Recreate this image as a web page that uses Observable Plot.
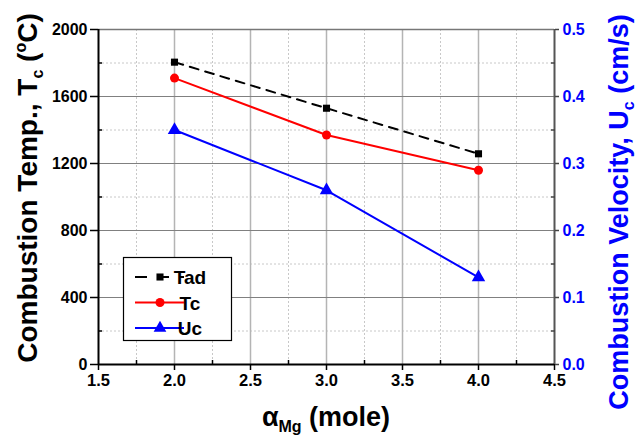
<!DOCTYPE html>
<html><head><meta charset="utf-8">
<script src="https://cdn.jsdelivr.net/npm/d3@7"></script>
<script src="https://cdn.jsdelivr.net/npm/@observablehq/plot@0.6"></script>
<style>
body{margin:0;background:#fff;}
svg{font-family:"Liberation Sans",Arial,sans-serif;}
svg text{font-weight:bold;}
</style></head>
<body><div id="chart"></div>
<script>
const alpha = [2.0, 3.0, 4.0];
const tad = [1805, 1530, 1258];
const tc = [1710, 1370, 1160];
const uc = [0.35, 0.26, 0.13];
const xTicks = [1.5, 2.0, 2.5, 3.0, 3.5, 4.0, 4.5];
const xMinor = [1.75, 2.25, 2.75, 3.25, 3.75, 4.25];
const yTicks = [0, 400, 800, 1200, 1600, 2000];
const yMinor = [200, 600, 1000, 1400, 1800];
const rTicks = [0.0, 0.1, 0.2, 0.3, 0.4, 0.5];
const rMinor = [0.05, 0.15, 0.25, 0.35, 0.45];
const K = 4000; // right axis factor: 0.5 -> 2000

const rows = (ys) => alpha.map((a, i) => ({x: a, y: ys[i]}));
const tadRows = rows(tad), tcRows = rows(tc), ucRows = rows(uc.map(v => v * K));
const BLUE = "#0000ff", RED = "#ff0000";

const plot = Plot.plot({
  width: 636, height: 438,
  marginLeft: 98, marginRight: 82, marginTop: 29, marginBottom: 74,
  style: {fontFamily: "Liberation Sans, Arial, sans-serif", fontSize: "16px", fontWeight: "bold", background: "#fff", color: "#000"},
  x: {domain: [1.5, 4.5]},
  y: {domain: [0, 2000]},
  marks: [
    Plot.ruleX(xMinor, {stroke: "#c8c8c8", strokeDasharray: "2,2", strokeWidth: 1}),
    Plot.ruleY(yMinor, {stroke: "#c8c8c8", strokeDasharray: "2,2", strokeWidth: 1}),
    Plot.ruleX(xTicks.slice(1, -1), {stroke: "#b4b4b4", strokeWidth: 1.5}),
    Plot.ruleY(yTicks.slice(1, -1), {stroke: "#808080", strokeWidth: 1}),
    Plot.ruleY([2000], {stroke: "#777", strokeWidth: 1.5}),
    Plot.ruleX([4.5], {stroke: "#555", strokeWidth: 2}),
    Plot.axisX(xTicks, {tickSize: 6, tickPadding: 4, tickFormat: d => d.toFixed(1), label: null, fontSize: 16.5, fontWeight: "bold", strokeWidth: 1.5}),
    Plot.axisX(xMinor, {tickSize: -4, label: null, text: null, strokeWidth: 1.5}),
    Plot.axisY(yTicks, {anchor: "left", tickSize: 8, tickPadding: 3, tickFormat: d => String(d), label: null, fontSize: 16, fontWeight: "bold", strokeWidth: 1.5}),
    Plot.axisY(yMinor, {anchor: "left", tickSize: -4, text: null, label: null, strokeWidth: 1.5}),
    Plot.axisY(rTicks.map(v => v * K), {anchor: "right", tickSize: 4, tickPadding: 4, tickFormat: d => (d / K).toFixed(1), label: null, fontSize: 16, fontWeight: "bold", color: BLUE, stroke: "#444", strokeWidth: 1.5}),
    Plot.axisY(rMinor.map(v => v * K), {anchor: "right", tickSize: -4, text: null, label: null, stroke: "#444", strokeWidth: 1.5}),
    Plot.ruleY([0], {stroke: "#000", strokeWidth: 2}),
    Plot.ruleX([1.5], {stroke: "#000", strokeWidth: 2}),
    Plot.line(tadRows, {x: "x", y: "y", stroke: "#000", strokeWidth: 2, strokeDasharray: "9,7"}),
    Plot.line(tcRows, {x: "x", y: "y", stroke: RED, strokeWidth: 2}),
    Plot.line(ucRows, {x: "x", y: "y", stroke: BLUE, strokeWidth: 2}),
    Plot.dot(tadRows, {x: "x", y: "y", symbol: "square", r: 4, fill: "#000", stroke: "none"}),
    Plot.dot(tcRows, {x: "x", y: "y", symbol: "circle", r: 4.5, fill: RED, stroke: "none"}),
    Plot.dot(ucRows, {x: "x", y: "y", symbol: "triangle", r: 5, fill: BLUE, stroke: "none"})
  ]
});
document.getElementById("chart").appendChild(plot);

const svg = d3.select(plot);
// left title
const lt = svg.append("text").attr("transform", "translate(37,188) rotate(-90)")
  .attr("text-anchor", "middle").attr("font-size", 28).attr("font-weight", "bold").attr("fill", "#000");
lt.append("tspan").text("Combustion Temp., T");
lt.append("tspan").attr("font-size", 16).attr("dy", 6).text("c");
lt.append("tspan").attr("dy", -6).text(" (");
lt.append("tspan").attr("font-size", 16).attr("dy", -11).text("o");
lt.append("tspan").attr("dy", 11).text("C)");
// right title
const rt = svg.append("text").attr("transform", "translate(628,212) rotate(-90)")
  .attr("text-anchor", "middle").attr("font-size", 27).attr("font-weight", "bold").attr("fill", BLUE);
rt.append("tspan").text("Combustion Velocity, U");
rt.append("tspan").attr("font-size", 16).attr("dy", 6).text("c");
rt.append("tspan").attr("dy", -6).text(" (cm/s)");
// bottom title
const bt = svg.append("text").attr("x", 326).attr("y", 426)
  .attr("text-anchor", "middle").attr("font-size", 27).attr("font-weight", "bold").attr("fill", "#000");
bt.append("tspan").text("α");
bt.append("tspan").attr("font-size", 16).attr("dy", 6).text("Mg");
bt.append("tspan").attr("dy", -6).text(" (mole)");

// legend
const lg = svg.append("g");
lg.append("rect").attr("x", 123.5).attr("y", 257.5).attr("width", 108).attr("height", 83)
  .attr("fill", "#fff").attr("stroke", "#000").attr("stroke-width", 1.2);
const entries = [
  {name: "Tad", color: "#000", dash: "12,10", sym: d3.symbolSquare, size: 50},
  {name: "Tc", color: RED, dash: null, sym: d3.symbolCircle, size: 64},
  {name: "Uc", color: BLUE, dash: null, sym: d3.symbolTriangle, size: 70}
];
entries.forEach((e, i) => {
  const y = 277 + i * 25.5;
  lg.append("line").attr("x1", 135).attr("x2", 184).attr("y1", y).attr("y2", y)
    .attr("stroke", e.color).attr("stroke-width", 2).attr("stroke-dasharray", e.dash);
  lg.append("path").attr("d", d3.symbol(e.sym, e.size)()).attr("transform", `translate(160,${y})`).attr("fill", e.color);
  lg.append("text").attr("x", 190).attr("y", y + 7).attr("font-size", 19).attr("font-weight", "bold").attr("fill", "#000").text(e.name);
});
</script></body></html>
